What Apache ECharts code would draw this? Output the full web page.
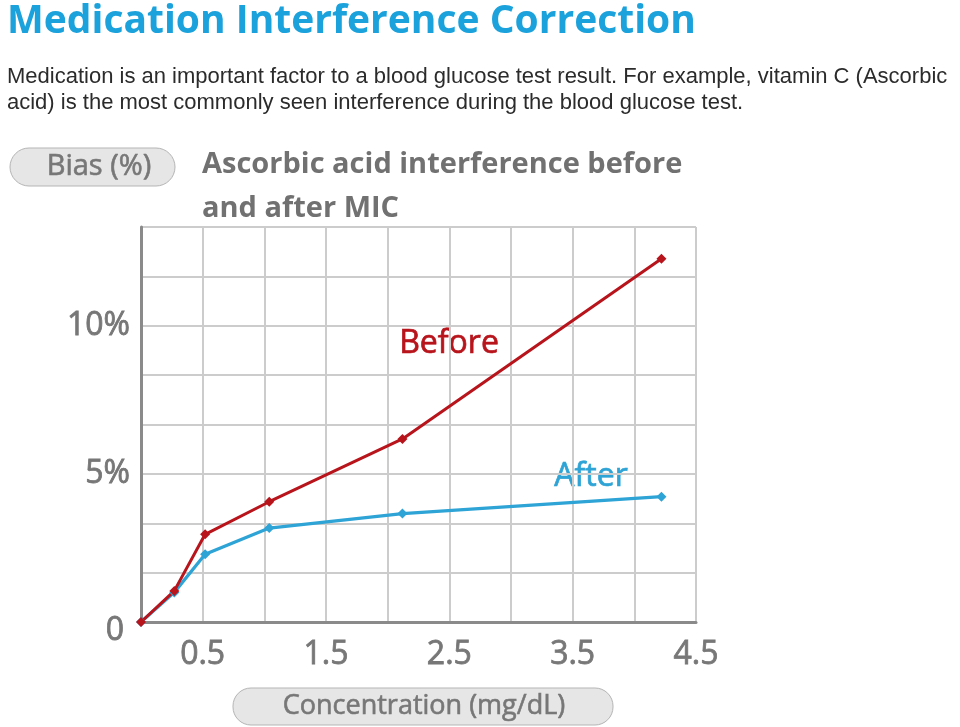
<!DOCTYPE html>
<html lang="en">
<head>
    <meta charset="UTF-8">
    <title>Ascorbic acid interference</title>
    <script src="https://cdn.jsdelivr.net/npm/echarts@6/dist/echarts.min.js"></script>
    <style>
        html, body { margin: 0; padding: 0; background: #fff; }
        #box { width: 960px; height: 727px; }
    </style>
</head>
<body>
    <div id="box"></div>
</body>
<script>
    // concentration (mg/dL) and bias (%)
    var conc = [0, 0.27, 0.52, 1.04, 2.12, 4.22]
    var before = [0, 1.05, 2.96, 4.06, 6.18, 12.26]
    var after = [0, 1.0, 2.29, 3.17, 3.66, 4.23]
    var xLabels = [0.5, 1.5, 2.5, 3.5, 4.5]
    var yLabels = [0, 5, 10]

    var pair = function (ys) {
        var out = []
        for (var i = 0; i < conc.length; i++) out.push([conc[i], ys[i]])
        return out
    }

    var font = '"Open Sans", "Noto Sans", sans-serif'
    var mEcharts = echarts.init(document.querySelector('#box'))

    var option = {
        backgroundColor: '#fff',
        animation: false,
        grid: { left: 141, right: 264, top: 227, bottom: 105 },
        xAxis: {
            type: 'value',
            min: 0, max: 4.5, interval: 0.5,
            axisLine: { lineStyle: { color: '#8a8a8a', width: 3 } },
            axisTick: { show: false },
            splitLine: { show: true, lineStyle: { color: '#cccccc', width: 2 } },
            axisLabel: {
                margin: 17, fontSize: 32, color: '#777', fontFamily: font,
                // thin outline in the same colour = slightly heavier digits
                textBorderColor: '#777', textBorderWidth: 0.8,
                formatter: function (v) {
                    for (var i = 0; i < xLabels.length; i++) {
                        if (Math.abs(v - xLabels[i]) < 0.01) return xLabels[i].toFixed(1)
                    }
                    return ''
                }
            }
        },
        yAxis: {
            type: 'value',
            min: 0, max: 40 / 3, interval: 5 / 3,
            axisLine: { show: true, lineStyle: { color: '#8a8a8a', width: 3 } },
            axisTick: { show: false },
            splitLine: { show: true, lineStyle: { color: '#cccccc', width: 2 } },
            axisLabel: {
                margin: 11, fontSize: 32, color: '#777', fontFamily: font,
                textBorderColor: '#777', textBorderWidth: 0.8,
                formatter: function (v) {
                    for (var i = 0; i < yLabels.length; i++) {
                        if (Math.abs(v - yLabels[i]) < 0.01) {
                            return yLabels[i] === 0 ? '{z|0}' : yLabels[i] + '%'
                        }
                    }
                    return ''
                },
                rich: { z: { fontSize: 32, color: '#777', fontFamily: font, textBorderColor: '#777', textBorderWidth: 0.8, padding: [18, 6, 0, 0] } }
            }
        },
        series: [{
            name: 'After',
            type: 'line',
            data: pair(after),
            symbol: 'diamond', symbolSize: 10,
            itemStyle: { color: '#2ea3d5' },
            lineStyle: { color: '#2ea3d5', width: 3.2 }
        }, {
            name: 'Before',
            type: 'line',
            data: pair(before),
            symbol: 'diamond', symbolSize: 10,
            itemStyle: { color: '#b8141c' },
            lineStyle: { color: '#b8141c', width: 3 }
        }],
        graphic: [
            { type: 'text', left: 7, top: 2, style: { text: 'Medication Interference Correction', fill: '#1ba2dc', font: 'bold 39px ' + font } },
            { type: 'text', left: 7, top: 64, style: { text: 'Medication is an important factor to a blood glucose test result. For example, vitamin C (Ascorbic\nacid) is the most commonly seen interference during the blood glucose test.', fill: '#2b2b2b', font: '22px "Liberation Sans", Arial, sans-serif', lineHeight: 26 } },
            { type: 'rect', shape: { x: 10, y: 148, width: 165, height: 38, r: 19 }, style: { fill: '#e6e6e6', stroke: '#b5b5b5', lineWidth: 1 } },
            { type: 'text', x: 99, y: 167, style: { text: 'Bias (%)', fill: '#777', stroke: '#777', lineWidth: 0.6, font: '29px ' + font, align: 'center', verticalAlign: 'middle' } },
            { type: 'text', left: 202, top: 143, style: { text: 'Ascorbic acid interference before\nand after MIC', fill: '#717171', font: 'bold 29px ' + font, lineHeight: 44 } },
            { type: 'rect', shape: { x: 233, y: 688, width: 380, height: 37, r: 18 }, style: { fill: '#e6e6e6', stroke: '#b5b5b5', lineWidth: 1 } },
            { type: 'text', x: 424, y: 706, style: { text: 'Concentration (mg/dL)', fill: '#777', stroke: '#777', lineWidth: 0.6, font: '27px ' + font, align: 'center', verticalAlign: 'middle' } },
            { type: 'text', x: 449, y: 344, style: { text: 'Before', fill: '#b8141c', stroke: '#b8141c', lineWidth: 0.7, font: '32px ' + font, align: 'center', verticalAlign: 'middle' } },
            { type: 'text', x: 591, y: 477, style: { text: 'After', fill: '#2ea3d5', stroke: '#2ea3d5', lineWidth: 0.7, font: '32px ' + font, align: 'center', verticalAlign: 'middle' } }
        ]
    }
    mEcharts.setOption(option)
</script>
</html>
